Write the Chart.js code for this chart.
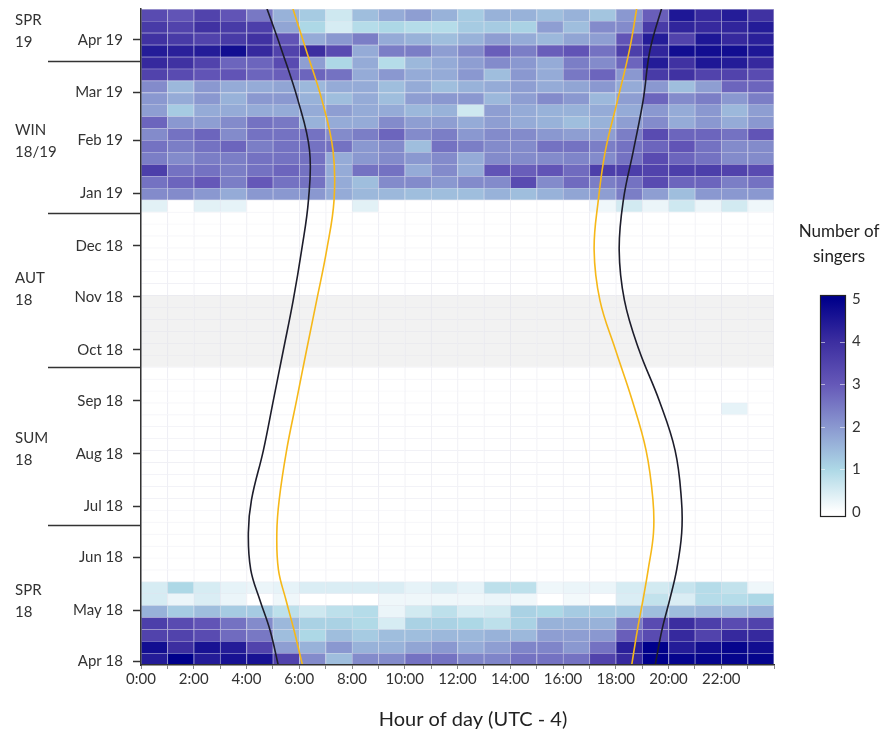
<!DOCTYPE html>
<html>
<head>
<meta charset="utf-8">
<script src="https://cdn.jsdelivr.net/npm/chart.js@4.4.1/dist/chart.umd.min.js"></script>
<style>
  body { margin: 0; background: #fff; }
  canvas { display: block; }
</style>
</head>
<body>
<canvas id="heatmap" width="886" height="735"></canvas>
<script>
// X axis: hour of day, labels every 2 hours
const hourLabels = ["0:00", "", "2:00", "", "4:00", "", "6:00", "", "8:00", "", "10:00", "",
  "12:00", "", "14:00", "", "16:00", "", "18:00", "", "20:00", "", "22:00", "", ""];

// Y axis: days since 1 Apr 2018, ticks at month starts
const monthDays = [0, 30, 61, 91, 122, 153, 183, 214, 244, 275, 306, 334, 365];
const monthLabels = ["Apr 18", "May 18", "Jun 18", "Jul 18", "Aug 18", "Sep 18", "Oct 18",
  "Nov 18", "Dec 18", "Jan 19", "Feb 19", "Mar 19", "Apr 19"];

// Weekly rows start on 30 Mar 2018 (day -2)
const firstWeekDay = -2;

// Mean number of singers per hour, spring 2018 (weeks 0-6, bottom up)
const spring18Weeks = [
  [4.4, 5.0, 4.4, 4.6, 4.6, 3.5, 2.2, 1.4, 2.2, 2.2, 2.6, 2.6, 2.3, 2.3, 2.6, 2.6, 2.6, 3.5, 4.1, 5.0, 4.9, 4.9, 4.9, 4.9],
  [4.7, 4.0, 4.6, 4.4, 3.5, 1.9, 1.6, 2.0, 1.6, 1.6, 1.8, 2.0, 1.7, 1.9, 2.3, 2.3, 2.0, 2.6, 4.3, 5.0, 4.4, 4.7, 4.9, 4.7],
  [3.5, 3.5, 3.3, 2.7, 2.5, 1.4, 1.0, 1.4, 1.2, 1.4, 1.4, 1.5, 1.5, 1.6, 1.5, 1.9, 1.9, 2.0, 2.9, 3.3, 4.1, 3.5, 4.1, 4.1],
  [3.6, 3.3, 3.1, 2.6, 2.2, 1.5, 1.1, 1.1, 0.95, 0.5, 1.1, 1.1, 1.0, 0.8, 1.1, 1.6, 1.6, 1.6, 2.4, 3.3, 4.0, 3.6, 3.3, 3.5],
  [1.6, 1.2, 1.4, 1.2, 1.2, 0.8, 0.6, 0.8, 0.9, 0.25, 0.55, 0.8, 0.5, 0.55, 1.1, 1.0, 1.2, 1.2, 1.2, 1.4, 1.4, 1.5, 1.5, 1.6],
  [0.5, 0.25, 0.45, 0.25, 0, 0.2, 0, 0, 0, 0.2, 0.2, 0.2, 0.2, 0.25, 0.2, 0, 0.15, 0, 0.45, 0.75, 0.45, 0.9, 0.9, 1.0],
  [0.5, 1.0, 0.5, 0.3, 0.25, 0.3, 0.45, 0.45, 0.45, 0.45, 0.3, 0.45, 0.3, 0.8, 0.8, 0.2, 0.25, 0.25, 0.5, 0.55, 0.7, 0.9, 0.75, 0.2]
];

// Weeks 7-37 (Jun to Dec 2018): no singers, except one cell in September
const quietWeekCount = 31;
const quietCells = [{ week: 21, hour: 22, value: 0.3 }];
// Weeks without recordings (grey band)
const missingWeeks = [25, 26, 27, 28, 29, 30];

// Winter 18/19 and spring 2019 (weeks 38-54, bottom up)
const winterWeeks = [
  [0.35, 0, 0.35, 0.3, 0, 0, 0, 0, 0.35, 0, 0, 0, 0, 0, 0, 0, 0, 0.2, 0.55, 0.25, 0.6, 0.25, 0.55, 0.2],
  [2.2, 2.2, 2.0, 1.7, 2.0, 2.0, 2.0, 1.7, 1.5, 1.5, 1.4, 1.4, 1.4, 1.6, 1.4, 1.6, 1.8, 1.9, 2.4, 1.9, 1.4, 2.0, 2.0, 2.0],
  [2.6, 2.8, 3.0, 2.4, 3.0, 2.6, 2.6, 1.7, 1.4, 2.2, 2.2, 2.0, 2.2, 2.2, 3.3, 2.2, 2.7, 2.4, 2.6, 3.3, 2.8, 2.8, 2.4, 2.6],
  [3.6, 2.6, 2.6, 2.4, 2.6, 2.8, 2.6, 1.7, 2.6, 2.6, 1.7, 2.2, 1.7, 3.1, 2.9, 3.1, 2.7, 3.6, 3.6, 3.5, 3.6, 3.6, 3.5, 3.3],
  [2.4, 2.2, 2.4, 2.4, 2.6, 2.6, 2.6, 1.7, 2.0, 2.2, 2.0, 2.2, 1.7, 2.2, 2.2, 2.2, 2.3, 2.2, 2.6, 3.3, 2.8, 2.6, 2.2, 2.2],
  [2.6, 2.4, 2.6, 2.8, 2.4, 2.6, 2.6, 2.6, 2.0, 2.2, 1.4, 2.6, 2.4, 2.2, 2.2, 2.6, 2.6, 2.4, 2.6, 2.8, 3.1, 2.6, 2.2, 2.2],
  [2.2, 2.6, 2.8, 2.2, 2.6, 2.6, 2.6, 2.2, 2.4, 2.8, 2.2, 2.4, 2.0, 2.2, 2.2, 2.0, 1.9, 1.9, 2.4, 3.3, 2.8, 2.8, 2.6, 3.1],
  [2.8, 2.0, 1.9, 2.2, 2.6, 2.5, 1.6, 1.7, 1.7, 2.2, 1.9, 1.9, 1.7, 1.9, 1.7, 1.6, 1.4, 1.6, 1.9, 2.2, 1.7, 2.0, 1.7, 2.0],
  [1.9, 1.2, 1.7, 1.7, 1.7, 1.7, 1.7, 1.9, 1.7, 1.7, 1.5, 1.6, 0.6, 1.9, 1.7, 1.6, 1.6, 1.7, 1.7, 2.0, 1.7, 2.0, 1.5, 1.9],
  [2.0, 1.7, 2.0, 1.6, 2.0, 2.0, 1.6, 1.4, 1.7, 1.4, 1.9, 2.0, 2.0, 1.5, 1.9, 2.2, 2.0, 1.5, 1.9, 2.8, 2.2, 2.4, 2.0, 2.4],
  [2.2, 1.5, 2.0, 1.7, 1.7, 1.8, 1.5, 1.7, 1.7, 1.4, 1.7, 1.4, 1.6, 1.7, 1.9, 1.7, 1.8, 2.0, 1.7, 2.0, 1.4, 1.9, 2.8, 2.8],
  [3.5, 3.3, 3.1, 3.1, 2.8, 2.9, 2.8, 2.6, 1.7, 2.0, 1.7, 1.7, 2.0, 1.4, 2.0, 1.7, 2.5, 2.8, 2.0, 3.7, 3.9, 3.5, 3.5, 3.3],
  [4.1, 3.9, 3.5, 2.8, 2.8, 3.3, 1.9, 1.0, 1.7, 0.9, 1.5, 1.7, 1.9, 2.2, 2.0, 1.7, 2.4, 2.2, 2.8, 4.4, 3.9, 4.5, 4.4, 4.1],
  [4.4, 4.3, 4.4, 4.7, 4.1, 3.5, 4.0, 3.3, 1.7, 2.4, 2.4, 1.9, 2.2, 2.9, 2.4, 2.9, 3.1, 2.6, 3.6, 4.2, 4.7, 4.7, 4.7, 4.5],
  [3.9, 3.7, 3.5, 3.7, 3.9, 3.1, 1.7, 2.0, 2.4, 1.7, 1.6, 1.4, 1.6, 1.9, 1.7, 1.5, 1.8, 1.9, 3.1, 4.4, 3.5, 4.5, 4.1, 4.3],
  [3.7, 3.5, 3.9, 3.7, 3.6, 1.8, 1.0, 0.5, 0.9, 1.0, 0.9, 0.9, 1.2, 1.2, 1.1, 1.9, 1.4, 2.2, 2.2, 3.7, 4.2, 4.1, 4.2, 4.4],
  [3.3, 3.1, 3.5, 3.1, 2.5, 1.6, 1.2, 0.6, 1.4, 1.7, 1.9, 1.6, 1.2, 1.6, 1.6, 1.4, 1.6, 1.3, 2.0, 2.9, 4.5, 4.1, 4.4, 3.9]
];

// Twilight and sun curves: hour of day at each day
const curveDays = [-2.5, 18.5, 36, 54, 75.5, 95, 124, 153.5, 183, 212, 241.5, 271, 300, 329.5, 359, 386.5];
const dawnHours = [5.21, 4.89, 4.51, 4.16, 4.07, 4.19, 4.64, 5.02, 5.40, 5.77, 6.09, 6.35, 6.39, 5.95, 5.33, 4.70];
const sunriseHours = [6.13, 5.80, 5.50, 5.21, 5.15, 5.24, 5.52, 5.90, 6.28, 6.66, 7.04, 7.32, 7.28, 6.86, 6.26, 5.69];
const sunsetHours = [18.60, 18.82, 19.03, 19.23, 19.43, 19.41, 19.15, 18.62, 17.99, 17.40, 17.18, 17.34, 17.61, 18.07, 18.52, 18.83];
const duskHours = [19.49, 19.75, 20.04, 20.31, 20.50, 20.49, 20.25, 19.64, 18.88, 18.33, 18.13, 18.29, 18.67, 19.04, 19.30, 19.80];

// Season boundaries and season labels (days)
const seasonBreaks = [80, 173, 263.5, 352.5];
const seasonNames = [["SPR", "18"], ["SUM", "18"], ["AUT", "18"], ["WIN", "18/19"], ["SPR", "19"]];
const seasonLabelDays = [35.6, 124.5, 218.7, 305.5, 369.8];

// Colour scale
const colorStops = ["#ffffff", "#add8e6", "#8a98d0", "#6558b8", "#3c2ea0", "#00008b"];
const missingColor = [242, 242, 242];
const lineTint = [226, 226, 236];

function hexToRgb(h) {
  return [parseInt(h.slice(1, 3), 16), parseInt(h.slice(3, 5), 16), parseInt(h.slice(5, 7), 16)];
}
function mix(a, b, t) {
  return a.map((v, i) => Math.round(v + (b[i] - v) * t));
}
function colorFor(v) {
  if (v === null) return missingColor;
  const c = Math.max(0, Math.min(5, v));
  const i = Math.min(Math.floor(c), 4);
  return mix(hexToRgb(colorStops[i]), hexToRgb(colorStops[i + 1]), c - i);
}
const rgb = (c) => `rgb(${c[0]},${c[1]},${c[2]})`;

// Assemble all weeks
const weeks = [...spring18Weeks];
for (let k = 0; k < quietWeekCount; k++) {
  const w = weeks.length;
  const row = missingWeeks.includes(w) ? new Array(24).fill(null) : new Array(24).fill(0);
  quietCells.filter((c) => c.week === w).forEach((c) => (row[c.hour] = c.value));
  weeks.push(row);
}
weeks.push(...winterWeeks);

const cells = [];
const cellFill = [];
const cellBorder = [];
const cellBorderWidth = [];
weeks.forEach((row, k) => {
  row.forEach((v, h) => {
    const start = firstWeekDay + 7 * k;
    cells.push({ x: h + 0.5, y: [start, start + 7] });
    const c = colorFor(v);
    cellFill.push(rgb(c));
    cellBorder.push(rgb(mix(c, lineTint, 0.6)));
    cellBorderWidth.push({ top: 1, left: 1, right: h === 23 ? 1 : 0, bottom: 0 });
  });
});

function curve(hours) {
  return curveDays.map((d, i) => ({ x: hours[i], y: d }));
}

const FONT = "Lato, 'Open Sans', sans-serif";

// Season lines/labels, x-axis title and colour bar
const decorations = {
  id: "decorations",
  afterDraw(chart) {
    const ctx = chart.ctx;
    const y = chart.scales.y;
    ctx.save();
    ctx.strokeStyle = "#333";
    ctx.lineWidth = 1.5;
    seasonBreaks.forEach((d) => {
      const py = Math.round(y.getPixelForValue(d)) + 0.5;
      ctx.beginPath();
      ctx.moveTo(48, py);
      ctx.lineTo(chart.chartArea.left, py);
      ctx.stroke();
    });
    ctx.fillStyle = "#333";
    ctx.font = "15px " + FONT;
    ctx.textAlign = "left";
    ctx.textBaseline = "middle";
    seasonNames.forEach((lines, i) => {
      const cy = y.getPixelForValue(seasonLabelDays[i]);
      ctx.fillText(lines[0], 15, cy - 11);
      ctx.fillText(lines[1], 15, cy + 11);
    });

    // x axis title
    ctx.font = "20px " + FONT;
    ctx.textAlign = "center";
    ctx.fillStyle = "#222";
    ctx.fillText("Hour of day (UTC - 4)", 473, 720);

    // colour bar legend
    ctx.font = "17px " + FONT;
    ctx.fillText("Number of", 839, 232);
    ctx.fillText("singers", 839, 257);
    const bx = 820, bw = 25, top = 295, bottom = 516;
    const v0 = 512, v5 = 299;
    const grad = ctx.createLinearGradient(0, v0, 0, v5);
    colorStops.forEach((c, i) => grad.addColorStop(i / 5, c));
    ctx.fillStyle = grad;
    ctx.fillRect(bx, top, bw, bottom - top);
    ctx.strokeStyle = "rgba(255,255,255,0.55)";
    ctx.lineWidth = 1;
    for (let v = 1; v <= 4; v++) {
      const py = Math.round(v0 + (v5 - v0) * v / 5) + 0.5;
      ctx.beginPath();
      ctx.moveTo(bx, py); ctx.lineTo(bx + 5, py);
      ctx.moveTo(bx + bw - 5, py); ctx.lineTo(bx + bw, py);
      ctx.stroke();
    }
    ctx.strokeStyle = "#222";
    ctx.lineWidth = 1.2;
    ctx.strokeRect(bx + 0.5, top + 0.5, bw, bottom - top);
    ctx.fillStyle = "#333";
    ctx.font = "15px " + FONT;
    ctx.textAlign = "left";
    for (let v = 0; v <= 5; v++) {
      ctx.fillText(String(v), 852, v0 + (v5 - v0) * v / 5);
    }
    ctx.restore();
  }
};

const lineStyle = { type: "line", pointRadius: 0, borderWidth: 1.6, tension: 0.4, fill: false, order: 0 };

new Chart(document.getElementById("heatmap"), {
  type: "bar",
  data: {
    datasets: [
      { ...lineStyle, label: "Civil dawn", data: curve(dawnHours), borderColor: "#1d1d2b" },
      { ...lineStyle, label: "Sunrise", data: curve(sunriseHours), borderColor: "#f6b818" },
      { ...lineStyle, label: "Sunset", data: curve(sunsetHours), borderColor: "#f6b818" },
      { ...lineStyle, label: "Civil dusk", data: curve(duskHours), borderColor: "#1d1d2b" },
      {
        label: "Number of singers",
        data: cells,
        backgroundColor: cellFill,
        borderColor: cellBorder,
        borderWidth: cellBorderWidth,
        borderSkipped: false,
        barPercentage: 1,
        categoryPercentage: 1,
        order: 1
      }
    ]
  },
  options: {
    responsive: false,
    animation: false,
    devicePixelRatio: 1,
    layout: { padding: { left: 0, top: 9, right: 112, bottom: 0 } },
    plugins: { legend: { display: false }, tooltip: { enabled: false } },
    scales: {
      x: {
        type: "linear",
        min: 0,
        max: 24,
        offset: false,
        afterFit: (s) => { s.height = 70; s.paddingLeft = 0; s.paddingRight = 0; },
        ticks: {
          stepSize: 1,
          autoSkip: false,
          maxRotation: 0,
          padding: 1,
          color: "#333",
          font: { family: FONT, size: 15 },
          callback: (v) => hourLabels[v] ?? ""
        },
        grid: { drawOnChartArea: false, offset: false, tickLength: 4, tickColor: "#8a8a8a" },
        border: { display: true, color: "#333", width: 1.5, z: 1 }
      },
      y: {
        type: "linear",
        min: firstWeekDay,
        max: firstWeekDay + 7 * 55,
        afterFit: (s) => { s.width = 141; s.paddingTop = 0; s.paddingBottom = 0; },
        afterBuildTicks: (s) => { s.ticks = monthDays.map((d) => ({ value: d })); },
        ticks: {
          autoSkip: false,
          padding: 10,
          color: "#333",
          font: { family: FONT, size: 15 },
          callback: (v, i) => monthLabels[i]
        },
        grid: { drawOnChartArea: false, tickLength: 8, tickColor: "#333", tickWidth: 1.5 },
        border: { display: true, color: "#333", width: 1.5, z: 1 }
      }
    }
  },
  plugins: [decorations]
});
</script>
</body>
</html>
